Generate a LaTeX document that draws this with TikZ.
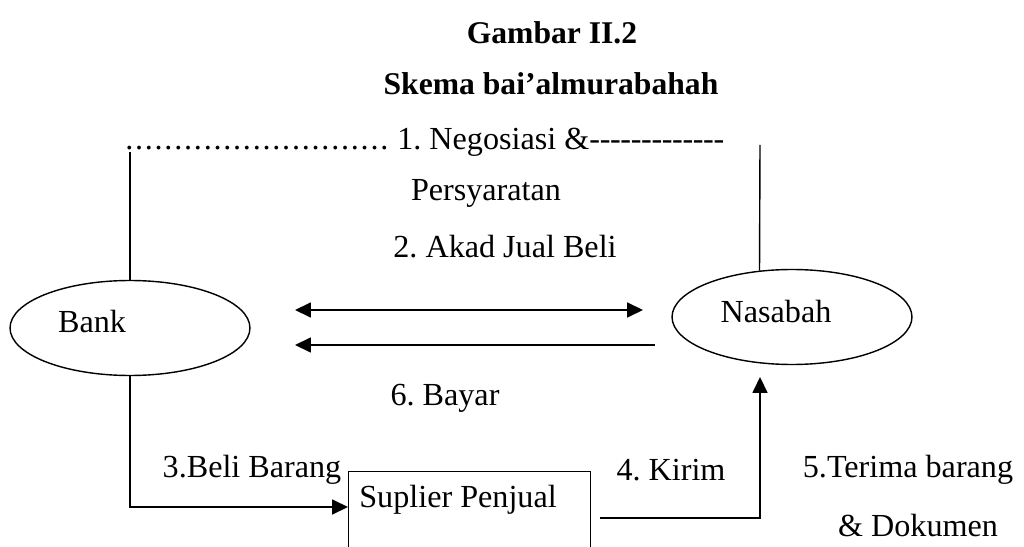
\documentclass[tikz,border=0pt]{standalone}
\usepackage{fontspec}
\setmainfont{Liberation Serif}
\usepackage{tikz}
\usetikzlibrary{shapes.geometric}
\usetikzlibrary{arrows.meta}
\frenchspacing
\tikzset{teks/.style={font=\fontsize{18.3}{22}\selectfont, inner sep=0pt}}
\tikzset{judul/.style={font=\fontsize{18}{22}\selectfont\bfseries, inner sep=0pt}}
\tikzset{elips/.style={draw, ellipse, line width=0.8pt, inner sep=0pt, minimum width=4.8cm, minimum height=1.9cm}}
\tikzset{kotak/.style={draw, line width=0.8pt, inner sep=0pt, minimum width=4.84cm, minimum height=3cm}}
\tikzset{garis/.style={line width=0.8pt}}
\tikzset{panah/.style={line width=0.8pt, -{Triangle[length=9pt,width=8.5pt]}}}
\newcommand{\barisTitik}[1]{\makebox[#1][l]{\xleaders\hbox to 0.195cm{\hss.\hss}\hfill}}
\newcommand{\barisStrip}[1]{\makebox[#1][l]{\xleaders\hbox to 0.196cm{\hss-\hss}\hfill}}

\begin{document}
\begin{tikzpicture}[x=0.02cm, y=-0.02cm]
    \useasboundingbox (0,0) rectangle (1024,547);
    \clip (0,0) rectangle (1024,547);

    \node[judul] (gambar) at (552,33) {Gambar II.2};
    \node[judul] (skema) at (551,84) {Skema bai'almurabahah};

    \node[teks, anchor=west] (nego) at (124,142) {\barisTitik{5.3cm}\ 1. Negosiasi \&\barisStrip{2.7cm}};
    \node[teks] (syarat) at (486,193) {Persyaratan};
    \node[teks] (akad) at (505,247) {2. Akad Jual Beli};
    \node[teks] (bayar) at (445,398) {6. Bayar};
    \node[teks] (beli) at (252,470) {3.Beli Barang};
    \node[teks] (kirim) at (671,470) {4. Kirim};
    \node[teks] (terima) at (908,470) {5.Terima barang};
    \node[teks] (dokumen) at (918,525) {\& Dokumen};

    \node[elips] (bank) at (130,328) {};
    \node[teks] (banktxt) at (92,322) {Bank};
    \node[elips] (nas) at (792,317) {};
    \node[teks] (nastxt) at (776,312) {Nasabah};
    \node[kotak, anchor=north west] (sup) at (348,471) {};
    \node[teks, anchor=west] (suptxt) at (359,500) {Suplier Penjual};

    \coordinate (b0) at (130,152);
    \coordinate (n0) at (760,145);
    \coordinate (a1) at (295,310);
    \coordinate (a2) at (643,310);
    \coordinate (a3) at (655,345);
    \coordinate (a4) at (295,345);
    \coordinate (b3) at (348,507);
    \coordinate (k1) at (600,518);
    \coordinate (k2) at (760,518);
    \coordinate (k3) at (760,377);

    \draw[garis] (b0) -- (bank.north);
    \draw[garis] (n0) -- (nas.125);
    \draw[panah, {Triangle[length=9pt,width=8.5pt]}-{Triangle[length=9pt,width=8.5pt]}] (a1) -- (a2);
    \draw[panah] (a3) -- (a4);
    \draw[panah] (bank.south) |- (b3);
    \draw[panah] (k1) -- (k2) -- (k3);
\end{tikzpicture}
\end{document}
